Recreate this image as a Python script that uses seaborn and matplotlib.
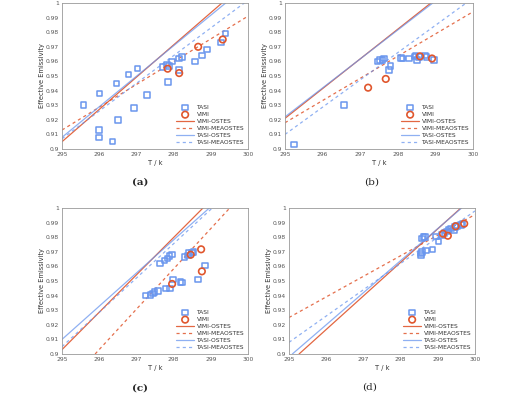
"""Effective emissivity vs temperature, four panels (a)-(d)."""

import matplotlib

matplotlib.use("Agg")
import matplotlib.pyplot as plt
import pandas as pd
import seaborn as sns

# ---- data ----
panel_labels = ["(a)", "(b)", "(c)", "(d)"]

tasi_x_a = [295.58, 296.01, 296.0, 296.0, 296.36, 296.46, 296.5, 296.79, 297.03, 296.94, 297.28,
            297.7, 297.83, 297.85, 297.88, 297.96, 298.15, 298.23, 298.15, 298.58, 298.77, 298.9,
            299.27, 299.39]
tasi_y_a = [0.930, 0.938, 0.913, 0.908, 0.905, 0.945, 0.920, 0.951, 0.955, 0.928, 0.937,
            0.956, 0.958, 0.946, 0.957, 0.960, 0.962, 0.963, 0.954, 0.960, 0.964, 0.968,
            0.973, 0.979]
vimi_x_a = [297.84, 298.15, 298.66, 299.32]
vimi_y_a = [0.955, 0.952, 0.970, 0.975]

tasi_x_b = [295.24, 296.57, 297.46, 297.52, 297.59, 297.63, 297.77, 297.81, 298.08, 298.13,
            298.3, 298.44, 298.47, 298.51, 298.57, 298.73, 298.76, 298.96]
tasi_y_b = [0.903, 0.930, 0.960, 0.961, 0.961, 0.962, 0.954, 0.957, 0.9625, 0.962,
            0.962, 0.9635, 0.964, 0.961, 0.963, 0.964, 0.963, 0.961]
vimi_x_b = [297.21, 297.68, 298.59, 298.91]
vimi_y_b = [0.942, 0.948, 0.9635, 0.962]

tasi_x_c = [297.24, 297.38, 297.44, 297.49, 297.58, 297.63, 297.75, 297.79, 297.84, 297.89,
            297.95, 297.9, 297.98, 298.19, 298.22, 298.29, 298.38, 298.42, 298.49, 298.53,
            298.65, 298.84]
tasi_y_c = [0.940, 0.9405, 0.9415, 0.9425, 0.943, 0.962, 0.964, 0.945, 0.9655, 0.967,
            0.968, 0.945, 0.951, 0.9495, 0.949, 0.9665, 0.9675, 0.969, 0.9695, 0.970,
            0.951, 0.9607]
vimi_x_c = [297.96, 298.46, 298.74, 298.76]
vimi_y_c = [0.948, 0.968, 0.9717, 0.9566]

tasi_x_d = [298.55, 298.55, 298.57, 298.62, 298.66, 298.57, 298.68, 298.86, 298.95, 299.02,
            299.11, 299.18, 299.24, 299.29, 299.36, 299.43, 299.46, 299.52, 299.63, 299.66]
tasi_y_d = [0.9687, 0.9675, 0.979, 0.980, 0.980, 0.970, 0.971, 0.9715, 0.9805, 0.977,
            0.9815, 0.983, 0.984, 0.985, 0.986, 0.9845, 0.987, 0.9875, 0.9885, 0.989]
vimi_x_d = [299.14, 299.27, 299.48, 299.71]
vimi_y_d = [0.9824, 0.981, 0.9875, 0.9893]

# fitted lines as visible end points: (x0, y0, x1, y1)
line_names = ["VIMI-OSTES", "VIMI-MEAOSTES", "TASI-OSTES", "TASI-MEAOSTES"]
lines_a = [(295, 0.905, 299.3, 1.0), (295, 0.913, 300, 0.991),
           (295, 0.908, 299.4, 1.0), (295, 0.907, 299.9, 1.0)]
lines_b = [(295, 0.921, 298.88, 1.0), (295, 0.918, 300, 0.994),
           (295, 0.922, 298.93, 1.0), (295, 0.910, 299.82, 1.0)]
lines_c = [(295, 0.903, 298.79, 1.0), (295.89, 0.9, 299.51, 1.0),
           (295, 0.910, 298.96, 1.0), (295, 0.905, 299.04, 1.0)]
lines_d = [(295.27, 0.9, 299.62, 1.0), (295, 0.925, 300, 0.9955),
           (295.09, 0.9, 299.64, 1.0), (295, 0.908, 300, 0.998)]

x_ticks = [295, 296, 297, 298, 299, 300]
y_ticks = [0.9, 0.91, 0.92, 0.93, 0.94, 0.95, 0.96, 0.97, 0.98, 0.99, 1]
y_tick_labels = ["0.9", "0.91", "0.92", "0.93", "0.94", "0.95", "0.96", "0.97", "0.98", "0.99", "1"]

panels = [
    (tasi_x_a, tasi_y_a, vimi_x_a, vimi_y_a, lines_a),
    (tasi_x_b, tasi_y_b, vimi_x_b, vimi_y_b, lines_b),
    (tasi_x_c, tasi_y_c, vimi_x_c, vimi_y_c, lines_c),
    (tasi_x_d, tasi_y_d, vimi_x_d, vimi_y_d, lines_d),
]

# ---- layout ----
W, H = 523, 393
axes_px = [(62, 3, 186, 146), (285, 3, 188, 146), (62, 208, 186, 146), (289, 208, 186, 146)]
caption_px = [(140, 182), (372, 182), (140, 388), (370, 387)]

RED = "#E0562D"
BLUE = "#6A96EE"
line_styles = {
    "VIMI-OSTES": dict(color=RED, dashes=None, alpha=0.9),
    "VIMI-MEAOSTES": dict(color=RED, dashes=(2.5, 2.5), alpha=0.85),
    "TASI-OSTES": dict(color=BLUE, dashes=None, alpha=0.75),
    "TASI-MEAOSTES": dict(color=BLUE, dashes=(2.5, 2.5), alpha=0.75),
}

sns.set_style("white")
plt.rcParams["font.family"] = ["DejaVu Sans"]

fig = plt.figure(figsize=(W / 100, H / 100), dpi=100)

for i, (tx, ty, vx, vy, lines) in enumerate(panels):
    left, top, w, h = axes_px[i]
    ax = fig.add_axes([left / W, 1 - (top + h) / H, w / W, h / H])

    handles = {}
    for name, (x0, y0, x1, y1) in zip(line_names, lines):
        st = line_styles[name]
        seg = pd.DataFrame({"x": [x0, x1], "y": [y0, y1]})
        sns.lineplot(data=seg, x="x", y="y", ax=ax, color=st["color"], lw=0.9,
                     alpha=st["alpha"], legend=False)
        ln = ax.lines[-1]
        if st["dashes"]:
            ln.set_dashes(st["dashes"])
        handles[name] = ln

    sns.scatterplot(x=tx, y=ty, ax=ax, marker="s", s=16, facecolor="none",
                    edgecolor=BLUE, linewidth=1.1, zorder=3, legend=False)
    handles["TASI"] = ax.collections[-1]
    sns.scatterplot(x=vx, y=vy, ax=ax, marker="o", s=22, facecolor="none",
                    edgecolor=RED, linewidth=1.2, zorder=4, legend=False)
    handles["VIMI"] = ax.collections[-1]

    order = ["TASI", "VIMI"] + line_names
    ax.legend([handles[k] for k in order], order, loc="lower right", frameon=False,
              fontsize=4.3, handlelength=3.0, labelspacing=0.3, borderaxespad=0.25,
              handletextpad=0.4, labelcolor="#333333")

    ax.set_xlim(295, 300)
    ax.set_ylim(0.9, 1.0)
    ax.set_xticks(x_ticks)
    ax.set_xticklabels([str(t) for t in x_ticks])
    ax.set_yticks(y_ticks)
    ax.set_yticklabels(y_tick_labels)
    ax.tick_params(direction="in", length=2, width=0.5, labelsize=4.3,
                   colors="#555555", labelcolor="#555555", pad=2)
    for sp in ax.spines.values():
        sp.set_visible(True)
        sp.set_color("#999999")
        sp.set_linewidth(0.6)
    ax.set_xlabel("T / k", fontsize=4.8, color="#333333", labelpad=2)
    ax.set_ylabel("Effective Emissivity", fontsize=4.8, color="#333333", labelpad=1)

    cx, cy = caption_px[i]
    fig.text(cx / W, 1 - cy / H, panel_labels[i], ha="center", va="center",
             fontsize=7.5, family=["DejaVu Serif"],
             fontweight="bold" if i in (0, 2) else "normal")

fig.savefig("out.png", dpi=100)
